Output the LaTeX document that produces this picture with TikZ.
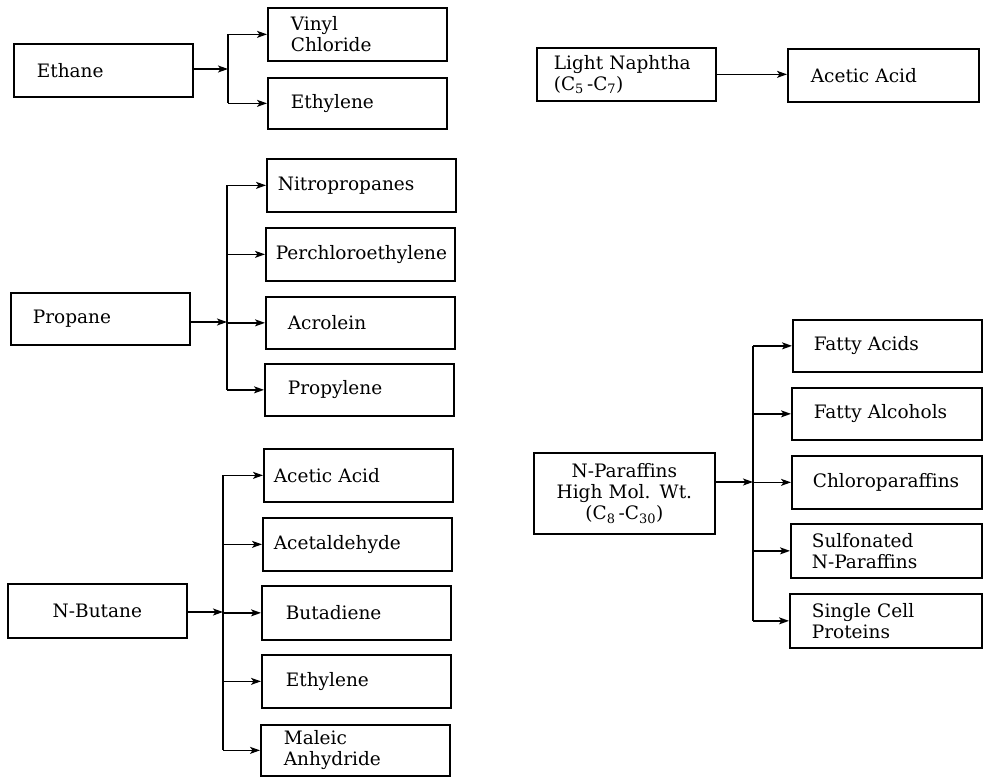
\documentclass[tikz,border=0pt]{standalone}
\usepackage{fontspec}
\setmainfont{DejaVu Serif}
\usetikzlibrary{arrows.meta}
\begin{document}
\begin{tikzpicture}[x=1pt,y=-1pt,
  every node/.style={font=\fontsize{18.5}{21}\selectfont},
  box/.style={draw, line width=1.7pt, anchor=north west, inner ysep=2pt, align=left},
  cbox/.style={draw, line width=1.7pt, anchor=north west, inner ysep=2pt, align=center},
  link/.style={line width=1.3pt},
  arr/.style={line width=1.3pt, -{Stealth[length=10pt,width=7pt,inset=2.5pt]}}]
\useasboundingbox[fill=white] (0,0) rectangle (984,776);

% ---------- Ethane ----------
\node[box, minimum width=179, minimum height=53, inner xsep=23, text width=133] (eth) at (13,43) {Ethane};
\node[box, minimum width=179, minimum height=53, inner xsep=23, text width=133] (vc) at (267,7) {Vinyl\\Chloride};
\node[box, minimum width=179, minimum height=51, inner xsep=23, text width=133] (ey1) at (267,77) {Ethylene};
\coordinate (jA) at (228,69);
\draw[arr] (eth.east |- jA) -- (jA);
\draw[link] (vc.west -| jA) -- (ey1.west -| jA);
\draw[arr] (vc.west -| jA) -- (vc.west);
\draw[arr] (ey1.west -| jA) -- (ey1.west);

% ---------- Light Naphtha ----------
\node[box, minimum width=179, minimum height=53, inner xsep=17, text width=145] (ln) at (536,47) {\mbox{Light Naphtha}\\(C\textsubscript{5}\,-C\textsubscript{7})};
\node[box, minimum width=191, minimum height=53, inner xsep=23, text width=145] (aa1) at (787,48) {\mbox{Acetic Acid}};
\draw[arr] (ln.east) -- (ln.east -| aa1.west);

% ---------- Propane ----------
\node[box, minimum width=179, minimum height=52, inner xsep=22, text width=135] (prp) at (10,292) {Propane};
\node[box, minimum width=189, minimum height=53, inner xsep=11, text width=167] (nit) at (266,158) {Nitropropanes};
\node[box, minimum width=189, minimum height=53, inner xsep=10, text width=169] (per) at (265,227) {Perchloroethylene};
\node[box, minimum width=189, minimum height=52, inner xsep=22, text width=145] (acr) at (265,296) {Acrolein};
\node[box, minimum width=189, minimum height=52, inner xsep=23, text width=143] (pyl) at (264,363) {Propylene};
\coordinate (jB) at (227,322);
\draw[arr] (prp.east |- jB) -- (jB);
\draw[link] (nit.west -| jB) -- (pyl.west -| jB);
\foreach \c in {nit,per,acr,pyl} \draw[arr] (\c.west -| jB) -- (\c.west);

% ---------- N-Butane ----------
\node[cbox, minimum width=179, minimum height=54, inner xsep=10, text width=159] (but) at (7,583) {N-Butane};
\node[box, minimum width=189, minimum height=53, inner xsep=10, text width=169] (aa2) at (263,448) {\mbox{Acetic Acid}};
\node[box, minimum width=189, minimum height=53, inner xsep=11, text width=167] (ald) at (262,517) {Acetaldehyde};
\node[box, minimum width=189, minimum height=54, inner xsep=24, text width=141] (bud) at (261,585) {Butadiene};
\node[box, minimum width=189, minimum height=53, inner xsep=24, text width=141] (ey2) at (261,654) {Ethylene};
\node[box, minimum width=189, minimum height=51, inner xsep=23, text width=143] (mal) at (260,724) {Maleic\\Anhydride};
\coordinate (jC) at (223,612);
\draw[arr] (but.east |- jC) -- (jC);
\draw[link] (aa2.west -| jC) -- (mal.west -| jC);
\foreach \c in {aa2,ald,bud,ey2,mal} \draw[arr] (\c.west -| jC) -- (\c.west);

% ---------- N-Paraffins ----------
\node[cbox, minimum width=181, minimum height=81, inner xsep=8, text width=165] (npf) at (533,452) {N-Paraffins\\\mbox{High Mol. Wt.}\\(C\textsubscript{8}\,-C\textsubscript{30})};
\node[box, minimum width=189, minimum height=52, inner xsep=21, text width=147] (fac) at (792,319) {\mbox{Fatty Acids}};
\node[box, minimum width=190, minimum height=52, inner xsep=22, text width=146] (fal) at (791,387) {\mbox{Fatty Alcohols}};
\node[box, minimum width=190, minimum height=53, inner xsep=21, text width=148] (clp) at (791,455) {Chloroparaffins};
\node[box, minimum width=191, minimum height=54, inner xsep=21, text width=149] (sul) at (790,523) {Sulfonated\\N-Paraffins};
\node[box, minimum width=192, minimum height=54, inner xsep=22, text width=148] (scp) at (789,593) {\mbox{Single Cell}\\Proteins};
\coordinate (jD) at (753,482);
\draw[arr] (npf.east |- jD) -- (jD);
\draw[link] (fac.west -| jD) -- (scp.west -| jD);
\foreach \c in {fac,fal,clp,sul,scp} \draw[arr] (\c.west -| jD) -- (\c.west);
\end{tikzpicture}
\end{document}
